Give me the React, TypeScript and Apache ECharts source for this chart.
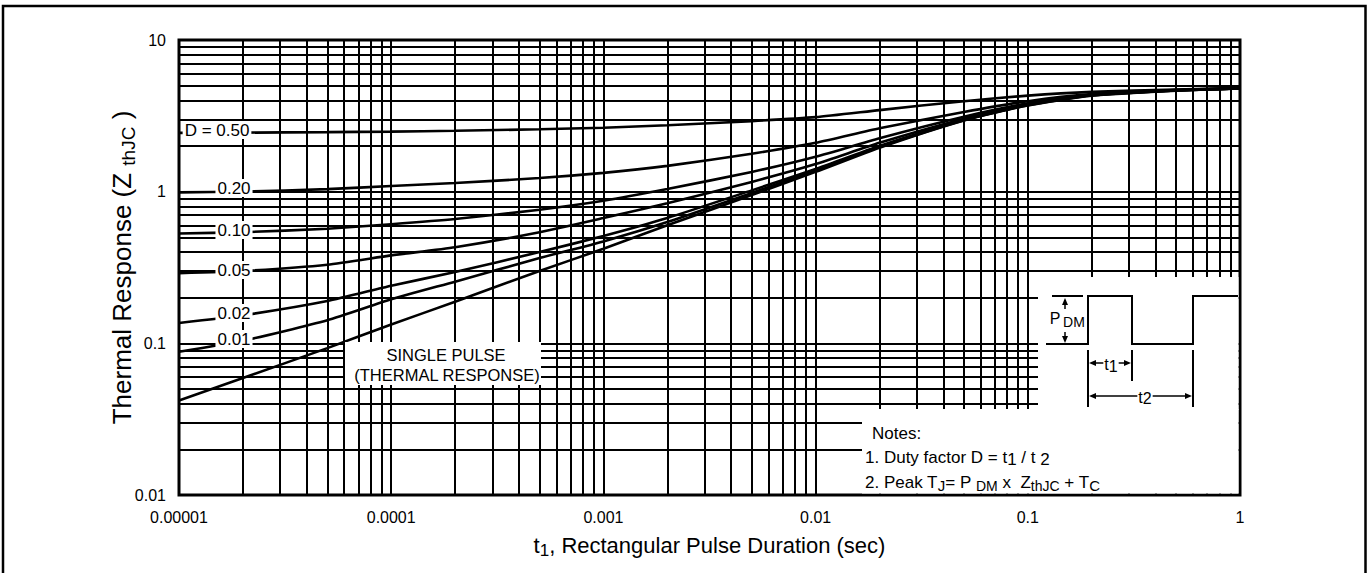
import React, { useEffect, useRef } from "react";
import * as echarts from "echarts";

const FONT = '"Liberation Sans", Arial, Helvetica, sans-serif';

// Pulse duration t1 (sec) sample positions
const pulseDurations = [1e-5, 2e-5, 5e-5, 1e-4, 2e-4, 5e-4, 1e-3, 2e-3, 5e-3, 1e-2, 2e-2, 5e-2, 0.1, 0.2, 0.5, 1];
// Thermal response Z_thJC
const duty050 = [2.44, 2.45, 2.47, 2.49, 2.52, 2.58, 2.64, 2.74, 2.92, 3.1, 3.45, 3.95, 4.3, 4.55, 4.72, 4.8];
const duty020 = [0.99, 1.0, 1.04, 1.09, 1.14, 1.23, 1.33, 1.48, 1.78, 2.1, 2.62, 3.35, 3.95, 4.4, 4.68, 4.8];
const duty010 = [0.53, 0.54, 0.57, 0.61, 0.66, 0.76, 0.87, 1.04, 1.35, 1.7, 2.25, 3.12, 3.82, 4.36, 4.67, 4.8];
const duty005 = [0.29, 0.3, 0.33, 0.38, 0.43, 0.54, 0.67, 0.84, 1.16, 1.52, 2.1, 3.03, 3.78, 4.34, 4.66, 4.8];
const duty002 = [0.136, 0.153, 0.19, 0.24, 0.295, 0.4, 0.51, 0.67, 1.02, 1.41, 2.0, 2.98, 3.74, 4.32, 4.65, 4.8];
const duty001 = [0.088, 0.104, 0.142, 0.195, 0.255, 0.365, 0.47, 0.63, 0.98, 1.38, 1.97, 2.96, 3.72, 4.31, 4.65, 4.8];
const singlePulse = [0.042, 0.059, 0.093, 0.133, 0.188, 0.3, 0.42, 0.6, 0.95, 1.35, 1.95, 2.95, 3.7, 4.3, 4.64, 4.8];

const curveNames = ["D = 0.50", "0.20", "0.10", "0.05", "0.02", "0.01", "Single pulse"];
const curveValues = [duty050, duty020, duty010, duty005, duty002, duty001, singlePulse];

const xTickLabels = ["0.00001", "0.0001", "0.001", "0.01", "0.1", "1"];
const yTickLabels = ["0.01", "0.1", "1", "10"];

const dutyLabelTexts = ["D = 0.50", "0.20", "0.10", "0.05", "0.02", "0.01"];

const X_MIN = 1e-5;
const X_MAX = 1;
const Y_MIN = 0.01;
const Y_MAX = 10;

function gridValues(fromExp: number, toExp: number): number[] {
  const out: number[] = [];
  for (let k = fromExp; k < toExp; k++) {
    for (let m = 1; m <= 9; m++) out.push(Number((m * Math.pow(10, k)).toPrecision(3)));
  }
  out.push(Math.pow(10, toExp));
  return out;
}

function arrow(tx: number, ty: number, dir: "up" | "down" | "left" | "right") {
  const L = 7;
  const W = 3;
  let pts: number[][];
  if (dir === "up") pts = [[tx, ty], [tx - W, ty + L], [tx + W, ty + L]];
  else if (dir === "down") pts = [[tx, ty], [tx - W, ty - L], [tx + W, ty - L]];
  else if (dir === "left") pts = [[tx, ty], [tx + L, ty - W], [tx + L, ty + W]];
  else pts = [[tx, ty], [tx - L, ty - W], [tx - L, ty + W]];
  return { type: "polygon", shape: { points: pts }, style: { fill: "#000" }, z: 62 };
}

function seg(x1: number, y1: number, x2: number, y2: number, w = 2) {
  return { type: "line", shape: { x1, y1, x2, y2 }, style: { stroke: "#000", lineWidth: w }, z: 61 };
}

export default function App() {
  const ref = useRef<HTMLDivElement>(null);
  useEffect(() => {
    document.body.style.margin = "0";
    const chart = echarts.init(ref.current!, null, { renderer: "svg" });

    const labelPos = [
      [217, 130],
      [234, 188],
      [234, 230],
      [234, 270],
      [234, 313],
      [234, 339],
    ];

    const dutyLabelGraphics = dutyLabelTexts.map((t, i) => ({
      type: "text",
      x: labelPos[i][0],
      y: labelPos[i][1],
      z: 55,
      style: {
        text: t,
        fontFamily: FONT,
        fontSize: 17,
        fill: "#000",
        align: "center",
        verticalAlign: "middle",
        backgroundColor: "#fff",
        padding: [1, 2, 0, 2],
      },
    }));

    const gridLineData = [
      ...gridValues(-5, 0).map((v) => [{ coord: [v, Y_MIN] }, { coord: [v, Y_MAX] }]),
      ...gridValues(-2, 1).map((v) => [{ coord: [X_MIN, v] }, { coord: [X_MAX, v] }]),
    ];

    const option: any = {
      animation: false,
      backgroundColor: "#fff",
      grid: {
        left: 179,
        top: 40,
        width: 1061,
        height: 455,
        show: true,
        borderColor: "#000",
        borderWidth: 3,
        backgroundColor: "transparent",
        containLabel: false,
        outerBoundsMode: "none",
      },
      xAxis: {
        type: "log",
        logBase: 10,
        min: X_MIN,
        max: X_MAX,
        splitNumber: 5,
        axisLine: { show: false },
        axisTick: { show: false },
        splitLine: { show: false },
        minorSplitLine: { show: false },
        axisLabel: {
          fontFamily: FONT,
          fontSize: 16,
          color: "#000",
          margin: 14,
          hideOverlap: false,
          showMinLabel: true,
          showMaxLabel: true,
          formatter: (v: number) => xTickLabels[Math.round(Math.log10(v)) + 5],
        },
        name: "{a|t}{b|1}{a|, Rectangular Pulse Duration (sec)}",
        nameLocation: "middle",
        nameGap: 36,
        nameTextStyle: {
          rich: {
            a: { fontFamily: FONT, fontSize: 22, color: "#000", lineHeight: 28 },
            b: { fontFamily: FONT, fontSize: 17, color: "#000", lineHeight: 14, verticalAlign: "bottom" },
          },
        },
      },
      yAxis: {
        type: "log",
        logBase: 10,
        min: Y_MIN,
        max: Y_MAX,
        splitNumber: 3,
        axisLine: { show: false },
        axisTick: { show: false },
        splitLine: { show: false },
        minorSplitLine: { show: false },
        axisLabel: {
          fontFamily: FONT,
          fontSize: 16,
          color: "#000",
          margin: 13,
          padding: [6, 0, 0, 0],
          hideOverlap: false,
          showMinLabel: true,
          showMaxLabel: true,
          formatter: (v: number) => yTickLabels[Math.round(Math.log10(v)) + 2],
        },
        name: "{a|Thermal Response (Z }{b|thJC}{a| )}",
        nameLocation: "middle",
        nameRotate: 90,
        nameGap: 41,
        nameMoveOverlap: false,
        nameTextStyle: {
          rich: {
            a: { fontFamily: FONT, fontSize: 26, color: "#000", lineHeight: 32 },
            b: { fontFamily: FONT, fontSize: 19, color: "#000", lineHeight: 17, verticalAlign: "bottom" },
          },
        },
      },
      series: [
        {
          type: "line",
          name: "grid",
          data: [[X_MIN, Y_MIN]],
          symbol: "none",
          lineStyle: { opacity: 0 },
          silent: true,
          z: 1,
          markLine: {
            silent: true,
            animation: false,
            symbol: ["none", "none"],
            label: { show: false },
            emphasis: { disabled: true },
            lineStyle: { color: "#000", width: 2, type: "solid" },
            data: gridLineData,
          },
        },
        ...curveValues.map((vals, i) => ({
          type: "line",
          name: curveNames[i],
          data: pulseDurations.map((t, j) => [t, vals[j]]),
          symbol: "none",
          showSymbol: false,
          smooth: 0.2,
          silent: true,
          lineStyle: { color: "#000", width: 2.6 },
          z: 3,
        })),
      ],
      graphic: [
        // outer frame
        { type: "rect", shape: { x: 3, y: 6, width: 1362.5, height: 620 }, style: { fill: "none", stroke: "#000", lineWidth: 2.5 }, z: 5 },
        // white inset areas
        { type: "rect", shape: { x: 1038, y: 277, width: 200.5, height: 133 }, style: { fill: "#fff" }, z: 40 },
        { type: "rect", shape: { x: 862, y: 409, width: 376.5, height: 84.5 }, style: { fill: "#fff" }, z: 40 },
        // single pulse label
        { type: "rect", shape: { x: 345, y: 342, width: 196, height: 43 }, style: { fill: "#fff" }, z: 40 },
        {
          type: "text", x: 446, y: 355, z: 55,
          style: { text: "SINGLE PULSE", fontFamily: FONT, fontSize: 16.5, fill: "#000", align: "center", verticalAlign: "middle" },
        },
        {
          type: "text", x: 447, y: 375, z: 55,
          style: { text: "(THERMAL RESPONSE)", fontFamily: FONT, fontSize: 16.5, fill: "#000", align: "center", verticalAlign: "middle" },
        },
        ...dutyLabelGraphics,
        // pulse diagram
        {
          type: "polyline",
          shape: { points: [[1046, 344], [1088, 344], [1088, 296], [1132, 296], [1132, 344], [1193, 344], [1193, 296], [1238, 296]] },
          style: { stroke: "#000", lineWidth: 2, fill: null },
          z: 61,
        },
        seg(1052, 296, 1083, 296),
        seg(1065, 300, 1065, 309, 1.5),
        arrow(1065, 298, "up"),
        seg(1065, 332, 1065, 340, 1.5),
        arrow(1065, 343, "down"),
        { type: "text", x: 1055, y: 318, z: 62, style: { text: "P", fontFamily: FONT, fontSize: 16, fill: "#000", align: "center", verticalAlign: "middle" } },
        { type: "text", x: 1074, y: 322, z: 62, style: { text: "DM", fontFamily: FONT, fontSize: 14, fill: "#000", align: "center", verticalAlign: "middle" } },
        seg(1088, 350, 1088, 407),
        seg(1132, 350, 1132, 381),
        seg(1193, 350, 1193, 407),
        seg(1092, 363, 1128, 363, 1.5),
        arrow(1089, 363, "left"),
        arrow(1131, 363, "right"),
        seg(1092, 396, 1189, 396, 1.5),
        arrow(1089, 396, "left"),
        arrow(1192, 396, "right"),
        {
          type: "text", x: 1111, y: 364, z: 63,
          style: {
            text: "{a|t}{b|1}",
            align: "center",
            verticalAlign: "middle",
            backgroundColor: "#fff",
            padding: [0, 1],
            rich: {
              a: { fontFamily: FONT, fontSize: 16, fill: "#000", lineHeight: 20 },
              b: { fontFamily: FONT, fontSize: 16, fill: "#000", lineHeight: 16, verticalAlign: "bottom" },
            },
          },
        },
        {
          type: "text", x: 1145, y: 397, z: 63,
          style: {
            text: "{a|t}{b|2}",
            align: "center",
            verticalAlign: "middle",
            backgroundColor: "#fff",
            padding: [0, 1],
            rich: {
              a: { fontFamily: FONT, fontSize: 16, fill: "#000", lineHeight: 18 },
              b: { fontFamily: FONT, fontSize: 16, fill: "#000", lineHeight: 16, verticalAlign: "bottom" },
            },
          },
        },
        // notes
        { type: "text", x: 872, y: 433, z: 62, style: { text: "Notes:", fontFamily: FONT, fontSize: 17, fill: "#000", align: "left", verticalAlign: "middle" } },
        {
          type: "text", x: 865, y: 457, z: 62,
          style: {
            text: "{a|1. Duty factor D = t}{b|1}{a| / t }{b|2}",
            align: "left",
            verticalAlign: "middle",
            rich: {
              a: { fontFamily: FONT, fontSize: 17, fill: "#000", lineHeight: 22 },
              b: { fontFamily: FONT, fontSize: 17, fill: "#000", lineHeight: 18, verticalAlign: "bottom" },
            },
          },
        },
        {
          type: "text", x: 865, y: 482, z: 62,
          style: {
            text: "{a|2. Peak T}{c|J}{a|= P }{b|DM}{a| x  Z}{b|thJC}{a| + T}{c|C}",
            align: "left",
            verticalAlign: "middle",
            rich: {
              a: { fontFamily: FONT, fontSize: 17, fill: "#000", lineHeight: 22 },
              b: { fontFamily: FONT, fontSize: 14, fill: "#000", lineHeight: 14, verticalAlign: "bottom" },
              c: { fontFamily: FONT, fontSize: 15, fill: "#000", lineHeight: 18, verticalAlign: "bottom" },
            },
          },
        },
      ],
    };

    chart.setOption(option);
    return () => chart.dispose();
  }, []);
  return <div ref={ref} style={{ width: 1370, height: 573 }} />;
}
